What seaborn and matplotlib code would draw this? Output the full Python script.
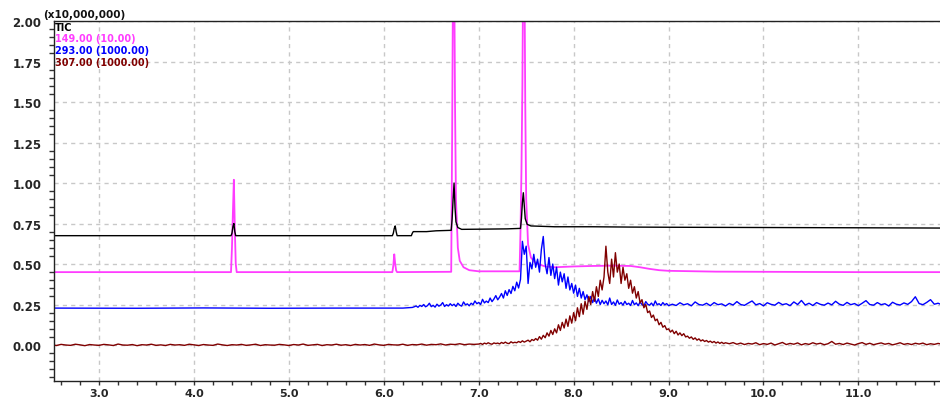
import numpy as np
import pandas as pd
import matplotlib
matplotlib.use("Agg")
import matplotlib.pyplot as plt
from matplotlib.ticker import MultipleLocator, FormatStrFormatter
import seaborn as sns

# ---- data (intensity in units of 10,000,000) ----
# TIC (black)
tic_t = [2.50, 4.39, 4.40, 4.41, 4.42, 4.43, 4.44, 6.09, 6.10, 6.11, 6.12, 6.13, 6.14,
         6.29, 6.30, 6.31, 6.45, 6.55, 6.71, 6.72, 6.73, 6.74, 6.75, 6.76, 6.78, 6.82,
         7.00, 7.30, 7.44, 7.45, 7.46, 7.47, 7.48, 7.49, 7.51, 7.55, 7.80, 8.20, 8.60,
         9.00, 9.60, 10.20, 10.80, 11.40, 11.88]
tic_v = [0.675, 0.675, 0.690, 0.730, 0.750, 0.700, 0.675, 0.675, 0.690, 0.720, 0.735, 0.700, 0.675,
         0.675, 0.690, 0.700, 0.700, 0.705, 0.708, 0.780, 0.900, 1.000, 0.850, 0.760, 0.725, 0.714,
         0.715, 0.717, 0.720, 0.780, 0.880, 0.940, 0.860, 0.780, 0.745, 0.735, 0.730, 0.730, 0.728,
         0.727, 0.726, 0.725, 0.724, 0.723, 0.722]

# m/z 149 (magenta), x10
mz149_t = [2.50, 4.39, 4.40, 4.41, 4.42, 4.43, 4.44, 4.45, 6.09, 6.10, 6.11, 6.12, 6.13, 6.14,
           6.71, 6.72, 6.73, 6.74, 6.75, 6.76, 6.78, 6.80, 6.84, 6.90, 7.00, 7.43, 7.44, 7.45,
           7.46, 7.47, 7.48, 7.49, 7.50, 7.52, 7.55, 7.60, 7.70, 7.80, 8.00, 8.20, 8.40, 8.60,
           8.70, 8.80, 8.90, 9.00, 9.50, 10.00, 11.00, 11.88]
mz149_v = [0.450, 0.450, 0.600, 0.820, 1.020, 0.720, 0.500, 0.450, 0.450, 0.490, 0.560, 0.500, 0.460, 0.450,
           0.452, 1.300, 2.400, 2.500, 1.500, 0.900, 0.600, 0.520, 0.480, 0.462, 0.455, 0.455, 0.700, 1.070,
           1.600, 2.500, 2.500, 1.500, 0.900, 0.620, 0.540, 0.505, 0.485, 0.480, 0.485, 0.488, 0.490, 0.488,
           0.480, 0.470, 0.462, 0.458, 0.453, 0.452, 0.450, 0.450]

# m/z 293 (blue), x1000 : flat part, then scans every 0.02 min and 0.04 min
mz293_base_t = [2.50, 3.40, 4.10, 4.80, 5.50, 6.20, 6.30]
mz293_base_v = [0.228, 0.227, 0.229, 0.227, 0.228, 0.228, 0.232]
mz293_mid_v = [  # 6.32 .. 9.00
    0.236, 0.241, 0.233, 0.245, 0.238, 0.250, 0.236, 0.243, 0.258, 0.237,
    0.245, 0.234, 0.252, 0.240, 0.247, 0.262, 0.238, 0.249, 0.241, 0.255,
    0.243, 0.252, 0.238, 0.258, 0.246, 0.240, 0.266, 0.248, 0.254, 0.242,
    0.258, 0.249, 0.272, 0.255, 0.263, 0.250, 0.282, 0.260, 0.271, 0.262,
    0.290, 0.268, 0.284, 0.305, 0.279, 0.296, 0.318, 0.290, 0.335, 0.306,
    0.342, 0.318, 0.362, 0.335, 0.388, 0.352, 0.405, 0.640, 0.560, 0.610,
    0.380, 0.510, 0.470, 0.560, 0.480, 0.530, 0.450, 0.590, 0.670, 0.500,
    0.440, 0.540, 0.430, 0.500, 0.410, 0.480, 0.370, 0.450, 0.390, 0.440,
    0.350, 0.420, 0.340, 0.380, 0.320, 0.370, 0.300, 0.350, 0.290, 0.330,
    0.280, 0.310, 0.268, 0.300, 0.262, 0.292, 0.258, 0.285, 0.250, 0.276,
    0.255, 0.272, 0.248, 0.290, 0.250, 0.266, 0.245, 0.278, 0.252, 0.262,
    0.246, 0.270, 0.250, 0.258, 0.244, 0.275, 0.249, 0.260, 0.243, 0.266,
    0.250, 0.241, 0.268, 0.252, 0.246, 0.259, 0.242, 0.272, 0.249, 0.255,
    0.244, 0.262, 0.248, 0.256, 0.243]
mz293_tail_v = [  # 9.04 .. 11.88
    0.252, 0.244, 0.261, 0.248, 0.255, 0.242, 0.266, 0.250, 0.246, 0.258,
    0.243, 0.262, 0.249, 0.254, 0.241, 0.257, 0.247, 0.268, 0.250, 0.245,
    0.259, 0.272, 0.248, 0.256, 0.242, 0.261, 0.251, 0.246, 0.263, 0.249,
    0.255, 0.243, 0.266, 0.250, 0.275, 0.247, 0.258, 0.244, 0.262, 0.251,
    0.246, 0.259, 0.248, 0.270, 0.252, 0.245, 0.263, 0.249, 0.256, 0.243,
    0.258, 0.274, 0.250, 0.246, 0.262, 0.249, 0.255, 0.241, 0.264, 0.252,
    0.247, 0.260, 0.251, 0.268, 0.298, 0.256, 0.249, 0.263, 0.280, 0.252,
    0.258, 0.248]

# m/z 307 (dark red), x1000
mz307_base_v = [  # 2.50 .. 6.95, every 0.05 min
    0.002, -0.003, 0.004, 0.000, -0.002, 0.005, 0.001, -0.004, 0.003, 0.000,
    -0.002, 0.004, 0.001, -0.003, 0.006, 0.000, -0.001, 0.003, -0.004, 0.002,
    0.000, 0.005, -0.002, 0.001, -0.003, 0.004, 0.000, 0.002, -0.002, 0.005,
    0.001, -0.003, 0.003, 0.000, -0.002, 0.006, 0.001, -0.003, 0.002, 0.000,
    0.004, -0.002, 0.001, 0.005, -0.003, 0.002, 0.000, -0.001, 0.004, 0.001,
    -0.003, 0.003, 0.000, 0.006, -0.002, 0.001, 0.004, -0.003, 0.002, 0.000,
    0.005, -0.001, 0.002, -0.003, 0.004, 0.000, 0.003, -0.002, 0.006, 0.001,
    -0.002, 0.004, 0.001, 0.000, 0.005, -0.002, 0.003, 0.001, 0.006, -0.001,
    0.004, 0.002, 0.007, 0.000, 0.005, 0.003, 0.008, 0.002, 0.006, 0.004]
mz307_mid_v = [  # 7.00 .. 9.60, every 0.02 min
    0.006, 0.010, 0.004, 0.012, 0.007, 0.014, 0.008, 0.005, 0.013, 0.009,
    0.012, 0.007, 0.016, 0.010, 0.018, 0.011, 0.009, 0.020, 0.013, 0.017,
    0.014, 0.022, 0.016, 0.026, 0.018, 0.024, 0.030, 0.020, 0.034, 0.028,
    0.040, 0.030, 0.052, 0.036, 0.060, 0.045, 0.075, 0.055, 0.090, 0.065,
    0.100, 0.075, 0.125, 0.090, 0.140, 0.105, 0.160, 0.115, 0.180, 0.135,
    0.200, 0.150, 0.230, 0.175, 0.255, 0.190, 0.270, 0.220, 0.300, 0.250,
    0.330, 0.270, 0.360, 0.300, 0.400, 0.340, 0.420, 0.610, 0.450, 0.380,
    0.530, 0.420, 0.570, 0.450, 0.500, 0.380, 0.480, 0.400, 0.440, 0.350,
    0.400, 0.320, 0.360, 0.290, 0.330, 0.260, 0.280, 0.230, 0.250, 0.200,
    0.210, 0.170, 0.185, 0.150, 0.160, 0.125, 0.140, 0.110, 0.120, 0.095,
    0.100, 0.080, 0.092, 0.070, 0.085, 0.062, 0.075, 0.058, 0.070, 0.050,
    0.055, 0.042, 0.050, 0.035, 0.044, 0.030, 0.038, 0.025, 0.032, 0.022,
    0.028, 0.018, 0.024, 0.015, 0.022, 0.012, 0.019, 0.010, 0.017, 0.009,
    0.014]
mz307_tail_v = [  # 9.64 .. 11.88, every 0.04 min
    0.008, 0.015, 0.005, 0.012, 0.003, 0.010, 0.006, 0.014, 0.002, 0.009,
    0.004, 0.012, 0.000, 0.008, 0.016, 0.003, 0.010, 0.005, 0.013, 0.001,
    0.009, 0.004, 0.014, 0.006, 0.011, 0.002, 0.008, 0.022, 0.005, 0.010,
    0.003, 0.012, 0.006, 0.000, 0.009, 0.015, 0.004, 0.011, 0.002, 0.008,
    0.013, 0.005, 0.010, 0.001, 0.007, 0.014, 0.004, 0.009, 0.003, 0.011,
    0.006, 0.012, 0.002, 0.008, 0.004, 0.010, 0.005]

legend_lines = ["TIC", "149.00 (10.00)", "293.00 (1000.00)", "307.00 (1000.00)"]
colors = ["#000000", "#ff3cff", "#0000ff", "#800000"]


def scan_times(start, stop, values):
    # scan times of a regularly sampled stretch
    return list(np.linspace(start, stop, len(values)))


mz293_t = mz293_base_t + scan_times(6.32, 9.00, mz293_mid_v) + scan_times(9.04, 11.88, mz293_tail_v)
mz293_v = mz293_base_v + mz293_mid_v + mz293_tail_v
mz307_t = scan_times(2.50, 6.95, mz307_base_v) + scan_times(7.00, 9.60, mz307_mid_v) + scan_times(9.64, 11.88, mz307_tail_v)
mz307_v = mz307_base_v + mz307_mid_v + mz307_tail_v

# ---- plot ----
sns.set_style("white")
plt.rcParams['font.family'] = ['DejaVu Sans']

fig = plt.figure(figsize=(9.4, 4.02), dpi=100)
ax = fig.add_axes([54 / 940, 20 / 402, 1 - 54 / 940, 360 / 402])

ax.grid(True, which='major', color='#c8c8c8', linestyle=(0, (3, 3)), linewidth=1)
ax.set_axisbelow(True)

sns.lineplot(x=mz149_t, y=mz149_v, ax=ax, color=colors[1], linewidth=1.3, estimator=None, sort=False)
sns.lineplot(x=tic_t, y=tic_v, ax=ax, color=colors[0], linewidth=1.0, estimator=None, sort=False)
sns.lineplot(x=mz293_t, y=mz293_v, ax=ax, color=colors[2], linewidth=1.0, estimator=None, sort=False)
sns.lineplot(x=mz307_t, y=mz307_v, ax=ax, color=colors[3], linewidth=1.0, estimator=None, sort=False)

ax.set_xlim(2.525, 11.86)
ax.set_ylim(-0.222, 2.0)
ax.xaxis.set_major_locator(MultipleLocator(1.0))
ax.xaxis.set_minor_locator(MultipleLocator(0.2))
ax.yaxis.set_major_locator(MultipleLocator(0.25))
ax.yaxis.set_minor_locator(MultipleLocator(0.05))
ax.xaxis.set_major_formatter(FormatStrFormatter('%.1f'))
ax.yaxis.set_major_formatter(FormatStrFormatter('%.2f'))

ax.tick_params(axis='y', which='major', length=8, width=1, color='#333333', direction='out',
               labelsize=8.5, pad=1)
ax.tick_params(axis='y', which='minor', length=3.5, width=1, color='#333333', direction='out', left=True)
ax.tick_params(axis='x', which='both', length=3, width=1, color='#333333', direction='out',
               labelsize=8, pad=2, bottom=True)
for lab in ax.get_xticklabels() + ax.get_yticklabels():
    lab.set_fontweight('bold')

for side in ['left', 'bottom', 'top']:
    ax.spines[side].set_visible(True)
    ax.spines[side].set_color('#222222')
    ax.spines[side].set_linewidth(1.0)
ax.spines['right'].set_visible(False)
ax.set_xlabel('')
ax.set_ylabel('')

fig.text(43 / 940, 1 - 15 / 402, "(x10,000,000)", fontsize=7.5, fontweight='bold',
         va='center', ha='left', color='#111111')
for i, (txt, col) in enumerate(zip(legend_lines, colors)):
    fig.text(55 / 940, 1 - (28 + 11.5 * i) / 402, txt, fontsize=7, fontweight='bold',
             va='center', ha='left', color=col)

fig.savefig('out.png', dpi=100)
